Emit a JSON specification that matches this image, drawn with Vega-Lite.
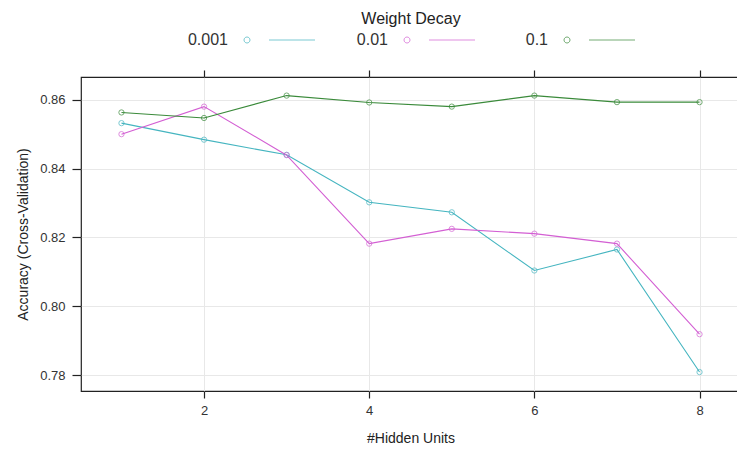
{
  "$schema": "https://vega.github.io/schema/vega-lite/v6.json",
  "width": 659,
  "height": 314,
  "autosize": {"type": "none"},
  "padding": {"left": 81, "top": 77, "right": 0, "bottom": 59},
  "background": "white",
  "config": {
    "font": "Liberation Sans",
    "view": {"stroke": "#222222", "strokeWidth": 1.2},
    "legend": {"layout": {"top": {"anchor": "middle"}}},
    "axis": {
      "domain": false,
      "grid": true,
      "gridColor": "#e8e8e8",
      "gridWidth": 1,
      "tickColor": "#222222",
      "tickWidth": 1.2,
      "labelFont": "Liberation Sans",
      "labelFontSize": 13,
      "labelColor": "#333333",
      "titleFont": "Liberation Sans",
      "titleFontSize": 14,
      "titleFontWeight": "normal",
      "titleColor": "#222222"
    }
  },
  "data": {
    "values": [
      {"hidden": 1, "acc": 0.8532, "decay": "0.001"},
      {"hidden": 2, "acc": 0.8484, "decay": "0.001"},
      {"hidden": 3, "acc": 0.8440, "decay": "0.001"},
      {"hidden": 4, "acc": 0.8302, "decay": "0.001"},
      {"hidden": 5, "acc": 0.8273, "decay": "0.001"},
      {"hidden": 6, "acc": 0.8104, "decay": "0.001"},
      {"hidden": 7, "acc": 0.8165, "decay": "0.001"},
      {"hidden": 8, "acc": 0.7809, "decay": "0.001"},
      {"hidden": 1, "acc": 0.8500, "decay": "0.01"},
      {"hidden": 2, "acc": 0.8580, "decay": "0.01"},
      {"hidden": 3, "acc": 0.8439, "decay": "0.01"},
      {"hidden": 4, "acc": 0.8182, "decay": "0.01"},
      {"hidden": 5, "acc": 0.8225, "decay": "0.01"},
      {"hidden": 6, "acc": 0.8211, "decay": "0.01"},
      {"hidden": 7, "acc": 0.8182, "decay": "0.01"},
      {"hidden": 8, "acc": 0.7919, "decay": "0.01"},
      {"hidden": 1, "acc": 0.8563, "decay": "0.1"},
      {"hidden": 2, "acc": 0.8547, "decay": "0.1"},
      {"hidden": 3, "acc": 0.8612, "decay": "0.1"},
      {"hidden": 4, "acc": 0.8592, "decay": "0.1"},
      {"hidden": 5, "acc": 0.8580, "decay": "0.1"},
      {"hidden": 6, "acc": 0.8612, "decay": "0.1"},
      {"hidden": 7, "acc": 0.8593, "decay": "0.1"},
      {"hidden": 8, "acc": 0.8593, "decay": "0.1"}
    ]
  },
  "resolve": {"axis": {"x": "independent"}},
  "layer": [
    {
      "mark": {"type": "line", "strokeWidth": 1.1},
      "encoding": {
        "x": {
          "field": "hidden", "type": "quantitative",
          "scale": {"domain": [0.51, 8.49], "nice": false, "zero": false},
          "axis": {"values": [2, 4, 6, 8], "title": "#Hidden Units", "tickSize": 7, "labelPadding": 6, "titlePadding": 14}
        },
        "y": {
          "field": "acc", "type": "quantitative",
          "scale": {"domain": [0.7754, 0.8666], "nice": false, "zero": false},
          "axis": {"values": [0.78, 0.80, 0.82, 0.84, 0.86], "format": ".2f", "title": "Accuracy (Cross-Validation)", "tickSize": 9, "labelPadding": 7, "titlePadding": 9}
        },
        "color": {
          "field": "decay", "type": "nominal",
          "scale": {"domain": ["0.001", "0.01", "0.1"], "range": ["#45b5c0", "#d35fd3", "#3a8a3a"]},
          "legend": {
            "orient": "top",
            "direction": "horizontal",
            "title": "Weight Decay",
            "titleOrient": "top",
            "titleAnchor": "middle",
            "titleFontSize": 16,
            "titleFontWeight": "normal",
            "titleColor": "#222222",
            "titlePadding": 5,
            "labelFontSize": 16,
            "labelColor": "#333333",
            "labelAlign": "right",
            "labelOffset": -27,
            "symbolOffset": 55,
            "symbolType": "M 0.6 0 A 0.6 0.6 0 1 1 -0.6 0 A 0.6 0.6 0 1 1 0.6 0 Z M 4.4 0 L 13.6 0",
            "symbolSize": 100,
            "symbolStrokeWidth": 1,
            "symbolFillColor": "transparent",
            "columnPadding": 27,
            "offset": 21
          }
        }
      }
    },
    {
      "mark": {"type": "point", "shape": "circle", "filled": false, "size": 28, "strokeWidth": 1},
      "encoding": {
        "x": {
          "field": "hidden", "type": "quantitative",
          "scale": {"domain": [0.51, 8.49], "nice": false, "zero": false},
          "axis": {"orient": "top", "values": [2, 4, 6, 8], "labels": false, "title": null, "grid": false, "tickSize": 7}
        },
        "y": {"field": "acc", "type": "quantitative"},
        "color": {"field": "decay", "type": "nominal"}
      }
    }
  ]
}
